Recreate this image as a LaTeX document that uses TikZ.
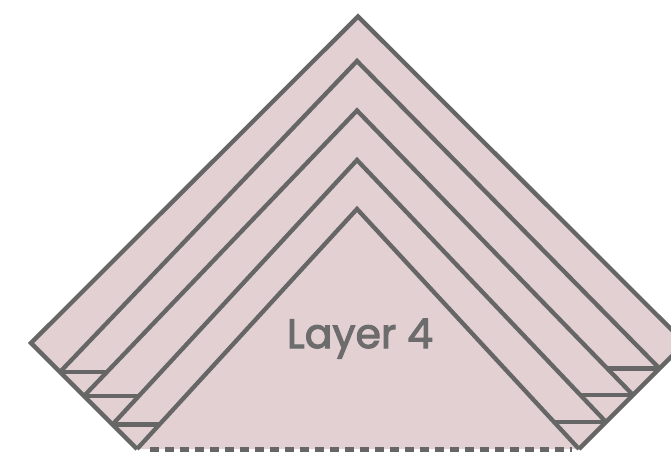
\documentclass[tikz,border=0pt]{standalone}
\usepackage{fontspec}
\setmainfont{Poppins}
\newfontfamily\labelfont{Poppins}[FakeBold=2.6]
\definecolor{pinkfill}{RGB}{227,208,210}
\definecolor{linegray}{RGB}{102,102,102}
\definecolor{textgray}{RGB}{108,108,108}
\begin{document}
\begin{tikzpicture}[x=1pt,y=-1pt,
  edge/.style={draw=linegray, line width=4.3pt, line join=miter},
  baseline dash/.style={draw=linegray, line width=4.3pt, dash pattern=on 9pt off 6pt},
  layerlabel/.style={text=textgray, font=\labelfont\fontsize{41}{41}\selectfont, inner sep=0pt, anchor=base}]
\useasboundingbox (0,0) rectangle (671,451);
\clip (0,0) rectangle (671,451);
% outer shape
\coordinate (A0) at (358,16.5);
\coordinate (L0) at (31,343);
\coordinate (R0) at (685,343);
\coordinate (BL) at (137,449);
\coordinate (BR) at (579,449);
% inner apexes
\coordinate (A1) at (357,61);
\coordinate (A2) at (357,110.5);
\coordinate (A3) at (357,160);
\coordinate (A4) at (357,209);
% left ends on outer edge
\coordinate (E1L) at (60,372);
\coordinate (E2L) at (84,396);
\coordinate (E3L) at (112.5,424.5);
\coordinate (E4L) at (137,449);
% left horizontal ends
\coordinate (H1L) at (106.9,372);
\coordinate (H2L) at (138.8,396);
\coordinate (H3L) at (159.4,424.5);
% right ends on outer edge
\coordinate (E1R) at (659.5,368.5);
\coordinate (E2R) at (633,395);
\coordinate (E3R) at (606,422);
\coordinate (E4R) at (579,449);
% right horizontal ends
\coordinate (H1R) at (607.3,368.5);
\coordinate (H2R) at (580.4,395);
\coordinate (H3R) at (554.1,422);
% dashed base
\coordinate (D1) at (150,449.5);
\coordinate (D2) at (572,449.5);

\fill[pinkfill] (A0) -- (L0) -- (BL) -- (BR) -- (R0) -- cycle;
\draw[baseline dash] (D1) -- (D2);
\draw[edge] (BL) -- (L0) -- (A0) -- (R0) -- (BR);
\draw[edge] (E1L) -- (A1) -- (E1R);
\draw[edge] (E2L) -- (A2) -- (E2R);
\draw[edge] (E3L) -- (A3) -- (E3R);
\draw[edge] (E4L) -- (A4) -- (E4R);
\draw[edge] (E1L) -- (H1L);
\draw[edge] (E2L) -- (H2L);
\draw[edge] (E3L) -- (H3L);
\draw[edge] (E1R) -- (H1R);
\draw[edge] (E2R) -- (H2R);
\draw[edge] (E3R) -- (H3R);
\node[layerlabel] (label) at (360,348) {Layer 4};
\end{tikzpicture}
\end{document}
